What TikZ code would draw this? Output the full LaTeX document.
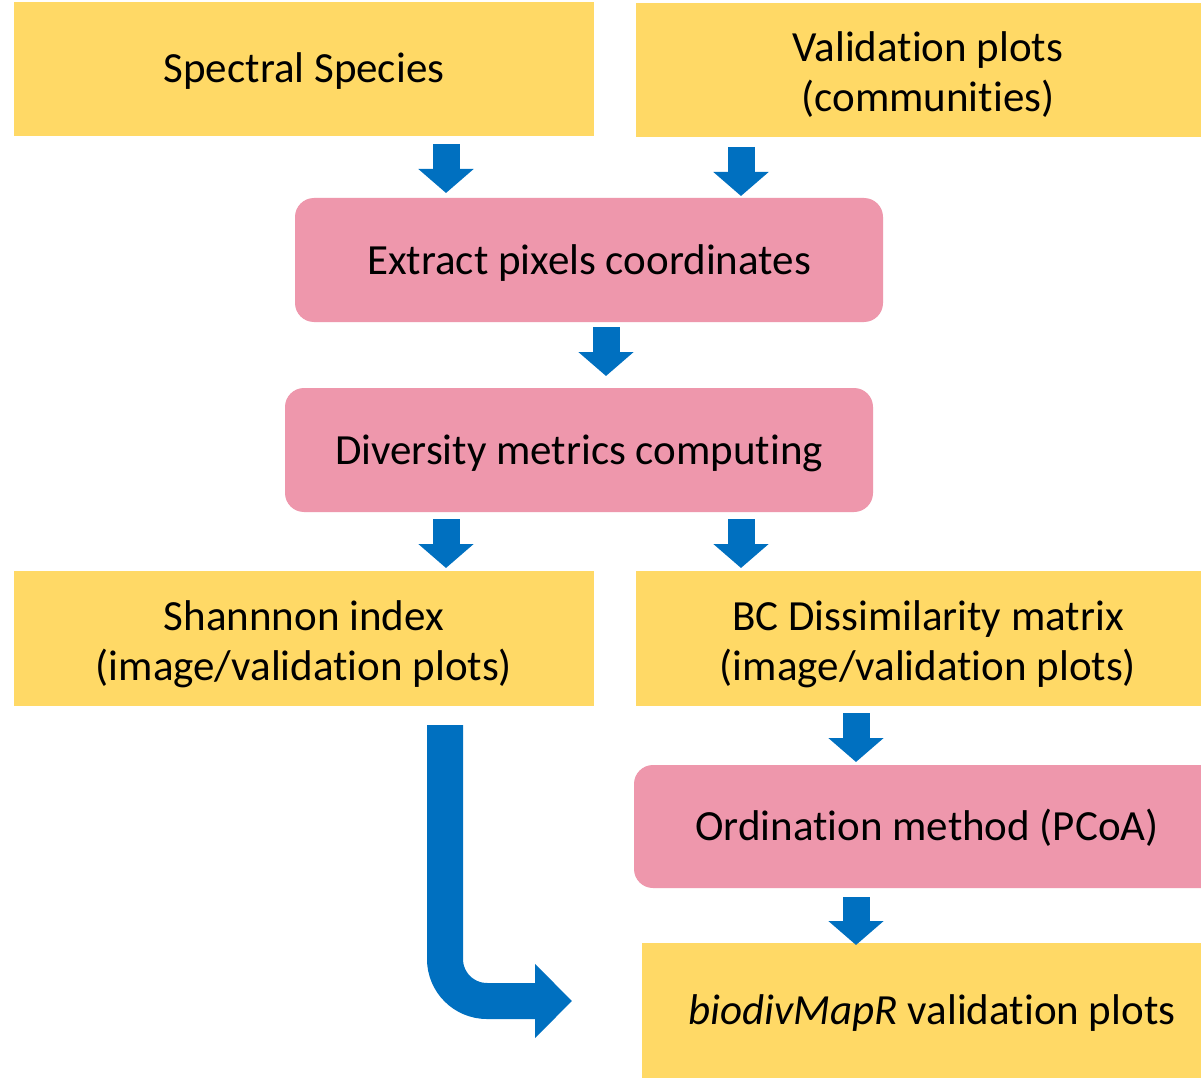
\documentclass[tikz,border=0pt]{standalone}
\usepackage{fontspec}
\setmainfont[Ligatures=NoCommon]{Carlito}
\usetikzlibrary{arrows.meta}
\definecolor{boxyellow}{HTML}{FFD966}
\definecolor{boxpink}{HTML}{EE97AC}
\definecolor{arrblue}{HTML}{0070C0}
\tikzset{
  ybox/.style={fill=boxyellow, draw=none, inner sep=0pt, align=center,
    font=\fontsize{21.5}{25}\selectfont, text height=14pt, text depth=0pt},
  pbox/.style={fill=boxpink, draw=none, rounded corners=9.5pt, inner sep=0pt, align=center,
    font=\fontsize{21.5}{25}\selectfont, text height=14pt, text depth=0pt},
  twoline/.style={text height=42pt, text depth=0pt},
  barrow/.style={draw=arrblue, line width=13.5pt,
    -{Triangle[width=27pt,length=12pt]}},
  bigarrow/.style={draw=arrblue, line width=18pt, rounded corners=21pt,
    -{Triangle[width=36pt,length=18.5pt]}}
}
\begin{document}
\begin{tikzpicture}[x=0.5pt,y=-0.5pt]
\clip (0,0) rectangle (1201,1081);
\fill[white] (0,0) rectangle (1201,1081);
% boxes
\node[ybox, minimum width=290pt, minimum height=67pt] (ss) at (304,69) {Spectral Species};
\node[ybox, twoline, minimum width=292pt, minimum height=67pt] (vp) at (928,70) {Validation plots\\(communities)};
\node[pbox, minimum width=294pt, minimum height=62pt] (ex) at (589,260) {Extract pixels coordinates};
\node[pbox, minimum width=294pt, minimum height=62pt] (dm) at (579,450) {Diversity metrics computing};
\node[ybox, twoline, minimum width=290pt, minimum height=67.5pt] (sh) at (304,638.5) {Shannnon index\\(image/validation plots)};
\node[ybox, twoline, minimum width=292pt, minimum height=67.5pt] (bc) at (928,638.5) {BC Dissimilarity matrix\\(image/validation plots)};
\node[pbox, minimum width=293pt, minimum height=61.5pt] (or) at (927,826.5) {Ordination method (PCoA)};
\node[ybox, minimum width=290pt, minimum height=67.5pt] (bm) at (932,1010.5) {\textit{biodivMapR} validation plots};
% arrow end points
\coordinate (a1s) at (446,144); \coordinate (a1e) at (446,193);
\coordinate (a2s) at (741,147); \coordinate (a2e) at (741,196);
\coordinate (a3s) at (606,327); \coordinate (a3e) at (606,376);
\coordinate (a4s) at (446,519); \coordinate (a4e) at (446,568);
\coordinate (a5s) at (741,519); \coordinate (a5e) at (741,568);
\coordinate (a6s) at (856,713); \coordinate (a6e) at (856,762);
\coordinate (a7s) at (856,897); \coordinate (a7e) at (856,945);
\coordinate (bs) at (445,725); \coordinate (bc1) at (445,1001); \coordinate (be) at (572,1001);
% arrows
\draw[barrow] (a1s) -- (a1e);
\draw[barrow] (a2s) -- (a2e);
\draw[barrow] (a3s) -- (a3e);
\draw[barrow] (a4s) -- (a4e);
\draw[barrow] (a5s) -- (a5e);
\draw[barrow] (a6s) -- (a6e);
\draw[barrow] (a7s) -- (a7e);
\draw[bigarrow] (bs) -- (bc1) -- (be);
\end{tikzpicture}
\end{document}
